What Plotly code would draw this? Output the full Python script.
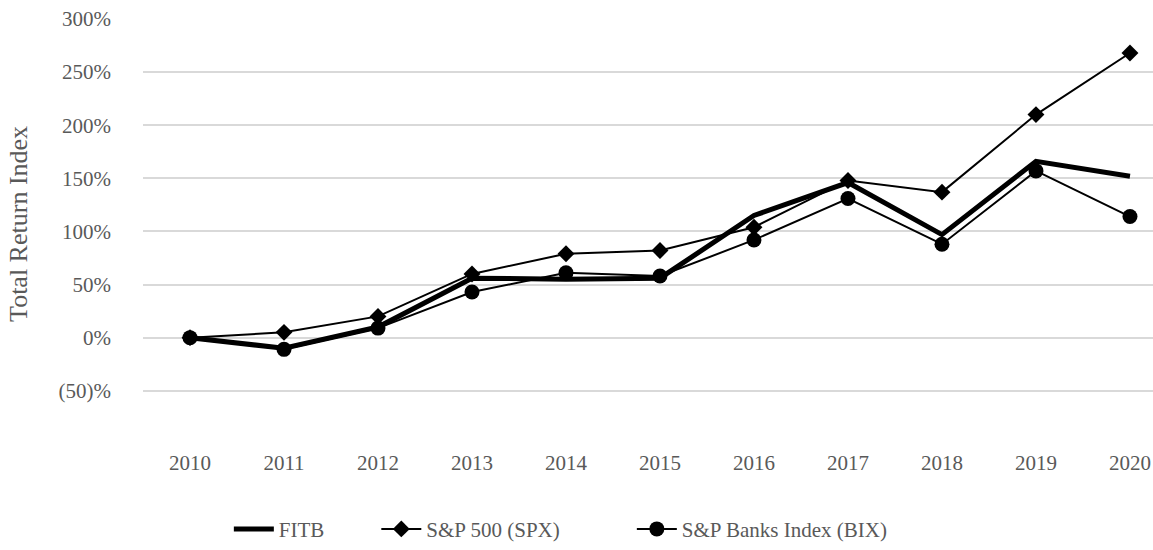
import plotly.graph_objects as go

years = ["2010", "2011", "2012", "2013", "2014", "2015", "2016", "2017", "2018", "2019", "2020"]
fitb = [0, -10, 10, 56, 55, 56, 115, 146, 97, 166, 152]
spx = [0, 5, 20, 60, 79, 82, 104, 148, 137, 210, 268]
bix = [0, -11, 9, 43, 61, 58, 92, 131, 88, 157, 114]

y_ticks = [-50, 0, 50, 100, 150, 200, 250, 300]
y_labels = ["(50)%", "0%", "50%", "100%", "150%", "200%", "250%", "300%"]

font_name = "Liberation Serif"
grey = "#595959"

fig = go.Figure()

fig.add_trace(go.Scatter(
    x=years, y=fitb, name="FITB", mode="lines",
    line=dict(color="black", width=5),
    legend="legend",
))
fig.add_trace(go.Scatter(
    x=years, y=spx, name="S&P 500 (SPX)", mode="lines+markers",
    line=dict(color="black", width=2),
    marker=dict(symbol="diamond", size=13, color="black"),
    legend="legend2",
))
fig.add_trace(go.Scatter(
    x=years, y=bix, name="S&P Banks Index (BIX)", mode="lines+markers",
    line=dict(color="black", width=2),
    marker=dict(symbol="circle", size=15, color="black"),
    legend="legend3",
))

# one legend per entry so the gaps match the original
leg = dict(orientation="h", xanchor="left", y=-0.195, yanchor="middle",
           font=dict(family=font_name, size=21, color=grey), itemwidth=40)

fig.update_layout(
    width=1153, height=550,
    margin=dict(l=143, r=0, t=19, b=96),
    plot_bgcolor="white", paper_bgcolor="white",
    font=dict(family=font_name, size=21, color=grey),
    showlegend=True,
    legend=dict(leg, x=0.085),
    legend2=dict(leg, x=0.231),
    legend3=dict(leg, x=0.484),
)

# axis title as annotation so it can sit a bit above the plot centre
fig.add_annotation(
    text="Total Return Index", textangle=-90,
    xref="paper", yref="paper", x=-0.1228, y=0.52,
    xanchor="center", yanchor="middle", showarrow=False,
    font=dict(family=font_name, size=26, color=grey),
)

fig.update_xaxes(
    type="category", range=[-0.5, 10.245], automargin=False,
    showgrid=False, showline=False, zeroline=False,
    ticks="", ticklabelstandoff=2, ticklabeloverflow="allow",
    tickfont=dict(family=font_name, size=21, color=grey),
)
fig.update_yaxes(
    range=[-102, 300], automargin=False,
    tickvals=y_ticks, ticktext=y_labels,
    showgrid=True, gridcolor="#d9d9d9", gridwidth=1.5,
    zeroline=False, showline=False, ticks="",
    ticklabelstandoff=31, ticklabeloverflow="allow",
    tickfont=dict(family=font_name, size=21, color=grey),
)

# drop the default 8px body margin so the chart fills the window exactly
fig.write_html("out.html", config={"displayModeBar": False},
               post_script="document.body.style.margin='0';")
